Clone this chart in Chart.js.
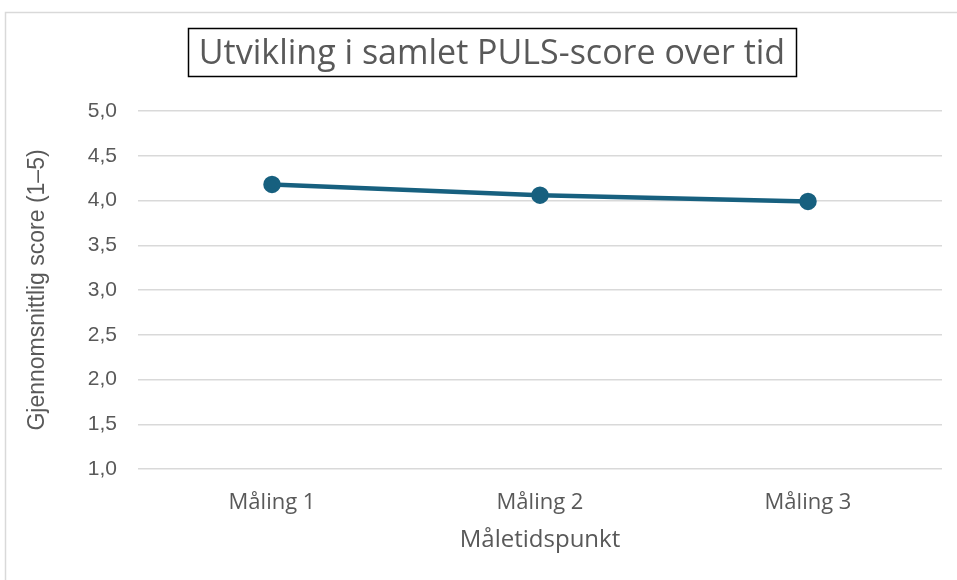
<!DOCTYPE html>
<html>
<head>
<meta charset="utf-8">
<script src="https://cdn.jsdelivr.net/npm/chart.js@4/dist/chart.umd.min.js"></script>
<style>
  html, body { margin: 0; padding: 0; background: #ffffff; }
  #wrap { position: relative; width: 957px; height: 580px; }
</style>
</head>
<body>
<div id="wrap"><canvas id="c" width="957" height="580"></canvas></div>
<script>
const categories = ["Måling 1", "Måling 2", "Måling 3"];
const scores = [4.18, 4.06, 3.99];
const yTicks = [1.0, 1.5, 2.0, 2.5, 3.0, 3.5, 4.0, 4.5, 5.0];
const chartTitle = "Utvikling i samlet PULS-score over tid";
const xTitle = "Måletidspunkt";
const yTitle = "Gjennomsnittlig score (1–5)";

const openSans = "'Open Sans', 'Liberation Sans', sans-serif";
const sans = "'Liberation Sans', Arial, sans-serif";
const textGray = "#595959";

const framePlugin = {
  id: 'frame',
  beforeDraw(chart) {
    const ctx = chart.ctx;
    ctx.save();
    ctx.strokeStyle = '#d9d9d9';
    ctx.lineWidth = 1.5;
    ctx.strokeRect(5.5, 12.5, 1200, 1200);
    ctx.restore();
  },
  afterLayout(chart) {
    const tb = chart.titleBlock;
    if (tb) { const shift = 16; tb.left += shift; tb.right += shift; }
  },
  afterDraw(chart) {
    const tb = chart.titleBlock;
    if (!tb) return;
    const ctx = chart.ctx;
    const f = chart.options.plugins.title.font;
    ctx.save();
    ctx.font = f.size + 'px ' + f.family;
    const w = ctx.measureText(chartTitle).width;
    const cx = (tb.left + tb.right) / 2;
    const padX = 11;
    ctx.strokeStyle = '#000000';
    ctx.lineWidth = 1.5;
    ctx.strokeRect(Math.round(cx - w / 2 - padX) + 0.5, tb.top + 0.5, Math.round(w + 2 * padX), 48);
    ctx.restore();
  }
};

new Chart(document.getElementById('c'), {
  type: 'line',
  data: {
    labels: categories,
    datasets: [{
      label: 'Samlet PULS-score',
      data: scores,
      borderColor: '#17607f',
      backgroundColor: '#17607f',
      borderWidth: 4.5,
      pointRadius: 6.5,
      pointHoverRadius: 6.5,
      pointBackgroundColor: '#17607f',
      pointBorderColor: '#17607f',
      tension: 0,
      fill: false
    }]
  },
  options: {
    responsive: false,
    animation: false,
    devicePixelRatio: 1,
    layout: { padding: { left: 10, right: 15, top: 28, bottom: 0 } },
    plugins: {
      legend: { display: false },
      tooltip: { enabled: false },
      title: {
        display: true,
        text: chartTitle,
        color: textGray,
        font: { size: 34, family: openSans, weight: 'normal', lineHeight: 1.1 },
        padding: { top: 8, bottom: 37.6 }
      }
    },
    scales: {
      x: {
        offset: true,
        grid: { display: false, drawTicks: false },
        border: { display: false },
        ticks: { color: textGray, font: { size: 22, family: openSans }, padding: 21 },
        title: { display: true, text: xTitle, color: textGray, font: { size: 24, family: openSans }, padding: { top: 4, bottom: 25 } },
        afterFit(s) { s.height = 111; }
      },
      y: {
        min: 1, max: 5,
        afterBuildTicks(s) { s.ticks = yTicks.map(v => ({ value: v })); },
        grid: { color: '#d9d9d9', lineWidth: 1.5, drawTicks: false },
        border: { display: false },
        ticks: {
          color: textGray,
          font: { size: 21, family: sans },
          padding: 21,
          callback: v => Number(v).toFixed(1).replace('.', ',')
        },
        title: { display: true, text: yTitle, color: textGray, font: { size: 23, family: sans }, padding: { top: 14, bottom: 0 } },
        afterFit(s) { s.width = 128; }
      }
    }
  },
  plugins: [framePlugin]
});
</script>
</body>
</html>
